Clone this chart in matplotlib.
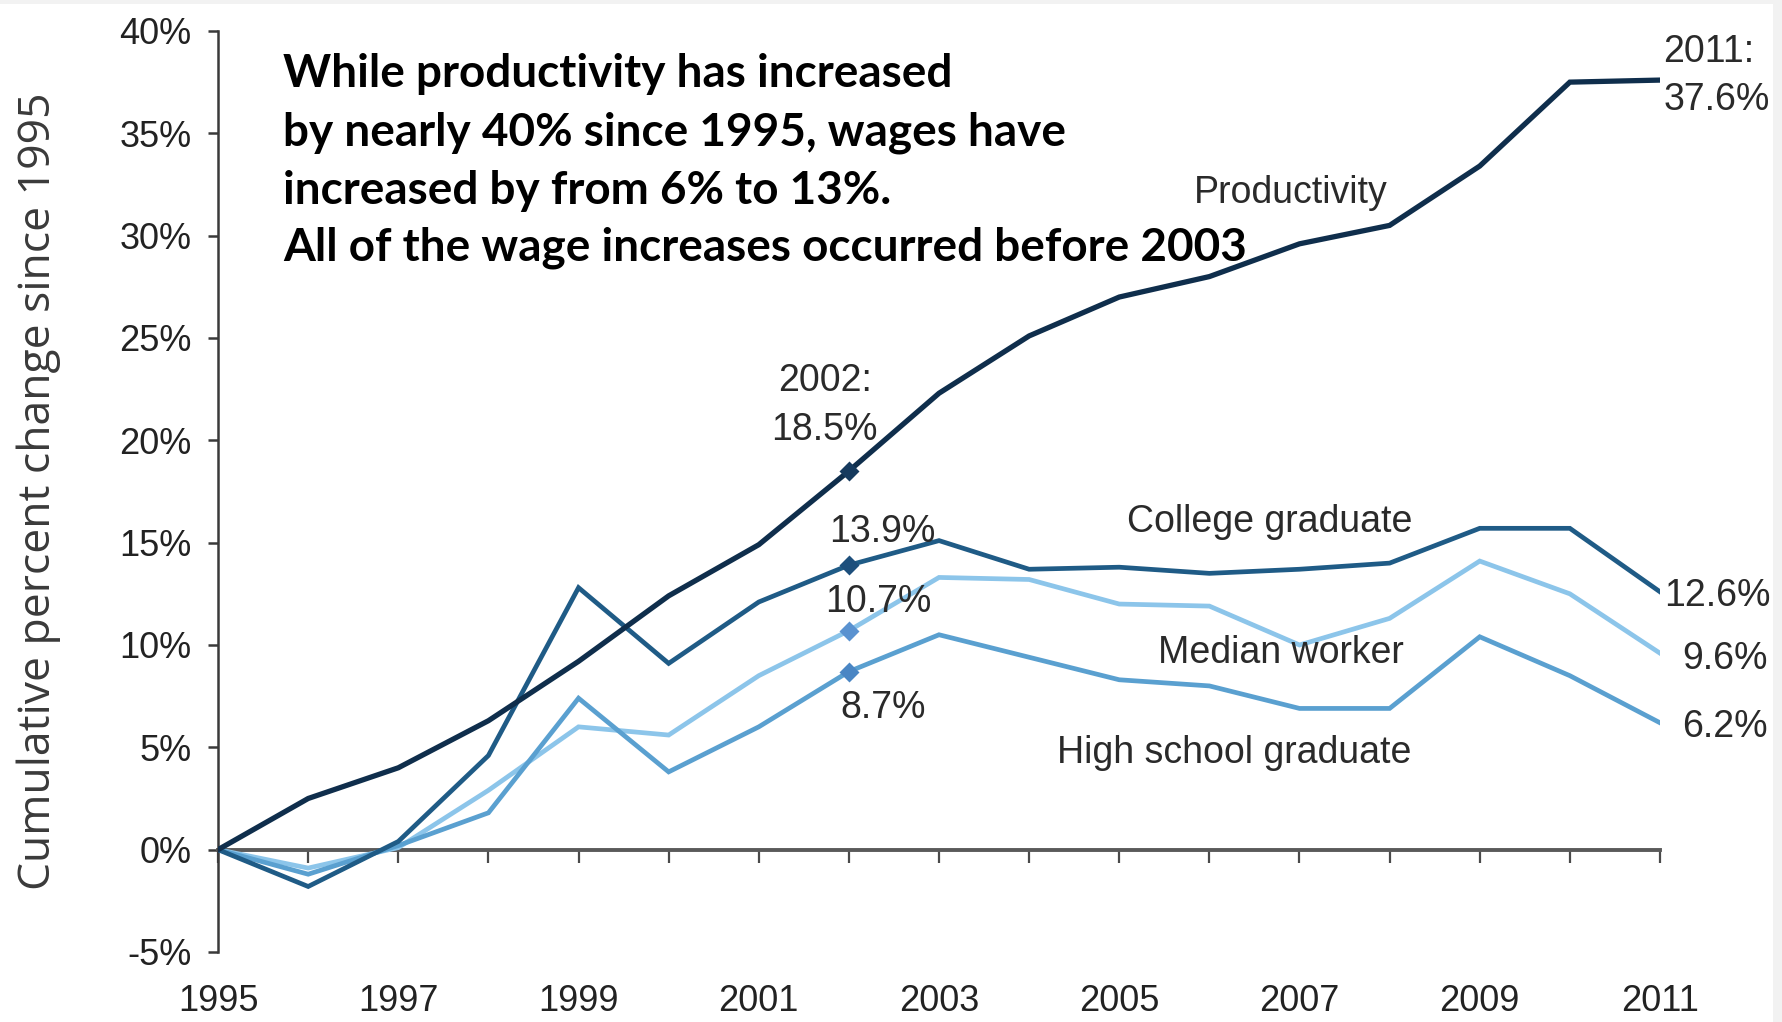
import matplotlib
matplotlib.use("Agg")
import matplotlib.pyplot as plt
from matplotlib.font_manager import fontManager
from matplotlib.patches import Rectangle

# Series: cumulative percent change since 1995
years = list(range(1995, 2012))
productivity = [0.0, 2.5, 4.0, 6.3, 9.2, 12.4, 14.9, 18.5, 22.3, 25.1, 27.0, 28.0, 29.6, 30.5, 33.4, 37.5, 37.6]
college = [0.0, -1.8, 0.4, 4.6, 12.8, 9.1, 12.1, 13.9, 15.1, 13.7, 13.8, 13.5, 13.7, 14.0, 15.7, 15.7, 12.6]
median = [0.0, -0.9, 0.1, 2.9, 6.0, 5.6, 8.5, 10.7, 13.3, 13.2, 12.0, 11.9, 10.0, 11.3, 14.1, 12.5, 9.6]
high_school = [0.0, -1.2, 0.2, 1.8, 7.4, 3.8, 6.0, 8.7, 10.5, 9.4, 8.3, 8.0, 6.9, 6.9, 10.4, 8.5, 6.2]

series_names = ["Productivity", "College graduate", "Median worker", "High school graduate"]
y_ticks = [-5, 0, 5, 10, 15, 20, 25, 30, 35, 40]
x_labelled = [1995, 1997, 1999, 2001, 2003, 2005, 2007, 2009, 2011]

headline_lines = [
    "While productivity has increased",
    "by nearly 40% since 1995, wages have",
    "increased by from 6% to 13%.",
    "All of the wage increases occurred before 2003",
]
y_title = "Cumulative percent change since 1995"

installed = {f.name for f in fontManager.ttflist}
narrow = "Liberation Sans Narrow" if "Liberation Sans Narrow" in installed else "Liberation Sans"
bold_font = "Lato" if "Lato" in installed else "DejaVu Sans"

colors = {
    "Productivity": "#0f2e4c",
    "College graduate": "#1f5b86",
    "Median worker": "#8cc5ea",
    "High school graduate": "#5aa0d0",
}
marker_colors = {
    "Productivity": "#163a5e",
    "College graduate": "#1d4f7c",
    "Median worker": "#5a92d0",
    "High school graduate": "#4a86c4",
}
data = {
    "Productivity": productivity,
    "College graduate": college,
    "Median worker": median,
    "High school graduate": high_school,
}

fig = plt.figure(figsize=(17.83, 10.22), dpi=100)
fig.patch.set_facecolor("white")
# faint frame bands on top and right edge
fig.add_artist(Rectangle((0.9945, 0), 0.0055, 1, transform=fig.transFigure,
                         facecolor="#f2f2f2", edgecolor="none"))
fig.add_artist(Rectangle((0, 0.996), 1, 0.004, transform=fig.transFigure,
                         facecolor="#f2f2f2", edgecolor="none"))

ax = fig.add_axes([0.1223, 0.0685, 0.8087, 0.9012])
ax.set_xlim(1995, 2011)
ax.set_ylim(-5, 40)

idx02 = years.index(2002)
# draw lighter series first so darker ones sit on top
for name in ["Median worker", "High school graduate", "College graduate", "Productivity"]:
    vals = data[name]
    ax.plot(years, vals, color=colors[name], lw=3.8 if name == "Productivity" else 3.4,
            solid_joinstyle="miter", zorder=3)
    ax.plot([years[idx02]], [vals[idx02]], marker="D", ms=10, color=marker_colors[name],
            mec="none", zorder=4)

# axes styling
for side in ["top", "right"]:
    ax.spines[side].set_visible(False)
ax.spines["left"].set_color("#3a3a3a")
ax.spines["left"].set_linewidth(1.8)
ax.spines["bottom"].set_position(("data", 0))
ax.spines["bottom"].set_color("#5a5a5a")
ax.spines["bottom"].set_linewidth(2.8)
ax.spines["bottom"].set_zorder(2)

ax.set_yticks(y_ticks)
ax.set_yticklabels([f"{t}%" for t in y_ticks])
ax.set_xticks(years)
ax.set_xticklabels([str(y) if y in x_labelled else "" for y in years])
ax.tick_params(axis="y", direction="out", length=7, width=1.8, color="#3a3a3a",
               labelsize=26, labelcolor="#222222", pad=12)
ax.tick_params(axis="x", direction="out", length=9, width=1.6, color="#4a4a4a",
               labelsize=26, labelcolor="#222222", pad=88)
for lab in ax.get_xticklabels() + ax.get_yticklabels():
    lab.set_fontfamily(narrow)

ax.set_ylabel(y_title, fontsize=32, color="#3a3a3a", family="Open Sans", labelpad=42)

# headline, one text per line
line_y = [37.9, 35.05, 32.2, 29.4]
for text, yy in zip(headline_lines, line_y):
    ax.text(1995.72, yy, text, ha="left", va="center", fontsize=33,
            fontweight="bold", family=bold_font, color="black", zorder=5)

# series labels
lab_kw = dict(fontsize=27, family=narrow, color="#2a2a2a", zorder=5)
ax.text(2006.9, 32.1, series_names[0], ha="center", va="center", **lab_kw)
ax.text(2006.67, 16.0, series_names[1], ha="center", va="center", **lab_kw)
ax.text(2006.79, 9.6, series_names[2], ha="center", va="center", **lab_kw)
ax.text(2006.27, 4.7, series_names[3], ha="center", va="center", **lab_kw)

# 2002 callouts
ax.text(2001.73, 21.7, f"2002:\n{productivity[idx02]:.1f}%", ha="center", va="center",
        linespacing=1.45, **lab_kw)
ax.text(2002.37, 15.5, f"{college[idx02]:.1f}%", ha="center", va="center", **lab_kw)
ax.text(2002.33, 12.1, f"{median[idx02]:.1f}%", ha="center", va="center", **lab_kw)
ax.text(2002.38, 6.9, f"{high_school[idx02]:.1f}%", ha="center", va="center", **lab_kw)

# 2011 end values
ax.text(2011.04, 37.8, f"2011:\n{productivity[-1]:.1f}%", ha="left", va="center",
        linespacing=1.45, clip_on=False, **lab_kw)
ax.text(2011.05, 12.4, f"{college[-1]:.1f}%", ha="left", va="center", clip_on=False, **lab_kw)
ax.text(2011.25, 9.3, f"{median[-1]:.1f}%", ha="left", va="center", clip_on=False, **lab_kw)
ax.text(2011.25, 6.0, f"{high_school[-1]:.1f}%", ha="left", va="center", clip_on=False, **lab_kw)

fig.savefig("out.png", dpi=100, facecolor=fig.get_facecolor())
